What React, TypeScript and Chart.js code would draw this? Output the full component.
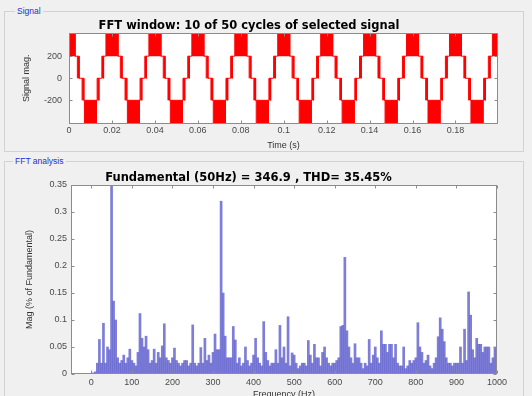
import React, { useEffect, useRef } from "react";
import { Chart, registerables } from "chart.js";

Chart.register(...registerables);

// ---------------- Signal window (top panel) ----------------
const CYCLE_PERIOD = 0.02; // s, 50 Hz
const CYCLE_COUNT = 11; // 10 cycles shown + wrap-around
// one cycle of the staircase signal, peak centred at t = 0
const BAND_START = [-0.0028, 0.0039, 0.0061, 0.0072, 0.0131, 0.0153];
const BAND_END = [0.0028, 0.0047, 0.0069, 0.0128, 0.0139, 0.0161];
const BAND_LOW = [200, 0, -200, -410, -200, 0];
const BAND_HIGH = [410, 200, 0, -200, 0, 200];
const TIME_TICKS = [0, 0.02, 0.04, 0.06, 0.08, 0.1, 0.12, 0.14, 0.16, 0.18];
const SIGNAL_TICKS = [-200, 0, 200];

// ---------------- FFT analysis (bottom panel) ----------------
const FREQ_RESOLUTION = 5; // Hz per bin
const MAGNITUDES = [
  0, 0.002, 0.004, 0.02, 0.064, 0.02, 0.094, 0.02, 0.05, 0.045,
  1.0, 0.135, 0.1, 0.03, 0.02, 0.025, 0.035, 0.02, 0.03, 0.046,
  0.025, 0.02, 0.015, 0.04, 0.112, 0.066, 0.05, 0.07, 0.045, 0.02,
  0.025, 0.046, 0.02, 0.04, 0.03, 0.052, 0.093, 0.03, 0.025, 0.02,
  0.03, 0.048, 0.025, 0.02, 0.015, 0.02, 0.025, 0.025, 0.015, 0.02,
  0.091, 0.02, 0.015, 0.02, 0.049, 0.02, 0.066, 0.025, 0.035, 0.02,
  0.04, 0.074, 0.045, 0.045, 0.32, 0.15, 0.07, 0.03, 0.03, 0.03,
  0.088, 0.063, 0.02, 0.03, 0.015, 0.02, 0.05, 0.025, 0.015, 0.02,
  0.035, 0.066, 0.03, 0.02, 0.015, 0.097, 0.04, 0.025, 0.015, 0.02,
  0.02, 0.045, 0.02, 0.09, 0.03, 0.05, 0.02, 0.106, 0.015, 0.039,
  0.035, 0.02, 0.01, 0.015, 0.02, 0.02, 0.015, 0.062, 0.035, 0.02,
  0.055, 0.03, 0.03, 0.015, 0.04, 0.05, 0.03, 0.02, 0.015, 0.02,
  0.02, 0.025, 0.03, 0.088, 0.09, 0.216, 0.08, 0.05, 0.03, 0.02,
  0.056, 0.03, 0.03, 0.02, 0.01, 0.02, 0.015, 0.064, 0.02, 0.035,
  0.05, 0.03, 0.02, 0.08, 0.055, 0.055, 0.04, 0.055, 0.055, 0.03,
  0.055, 0.02, 0.015, 0.015, 0.05, 0.01, 0.015, 0.025, 0.02, 0.025,
  0.03, 0.095, 0.05, 0.04, 0.02, 0.025, 0.035, 0.015, 0.01, 0.02,
  0.03, 0.069, 0.104, 0.083, 0.06, 0.03, 0.02, 0.02, 0.015, 0.02,
  0.02, 0.02, 0.05, 0.02, 0.083, 0.025, 0.152, 0.109, 0.045, 0.03,
  0.066, 0.055, 0.055, 0.04, 0.05, 0.05, 0.05, 0.02, 0.03, 0.05,
  0.05,
];
const FREQ_TICKS = [0, 100, 200, 300, 400, 500, 600, 700, 800, 900, 1000];
const MAG_TICKS = [0, 0.05, 0.1, 0.15, 0.2, 0.25, 0.3, 0.35];

const RED = "#ff0000";
const BAR_COLOR = "rgba(98,98,208,0.82)";
const TICK_COLOR = "#4a4a4a";
const FRAME_COLOR = "#8c8c8c";
const SANS = "'Liberation Sans', Arial, sans-serif";
const TITLE_FONT = { family: "'DejaVu Sans', sans-serif", size: 11.5, weight: "bold" as const };

const plotFrame = {
  id: "plotFrame",
  beforeDraw(chart: any) {
    const { ctx, chartArea: a } = chart;
    ctx.save();
    ctx.fillStyle = "#ffffff";
    ctx.fillRect(a.left, a.top, a.right - a.left, a.bottom - a.top);
    ctx.restore();
  },
  afterDatasetsDraw(chart: any) {
    const { ctx, chartArea: a, scales } = chart;
    ctx.save();
    ctx.strokeStyle = FRAME_COLOR;
    ctx.lineWidth = 1;
    const L = Math.round(a.left) + 0.5;
    const R = Math.round(a.right) - 0.5;
    const T = Math.round(a.top) + 0.5;
    const B = Math.round(a.bottom) - 0.5;
    ctx.strokeRect(L, T, R - L, B - T);
    const len = 3;
    ctx.beginPath();
    scales.x.ticks.forEach((t: any) => {
      const px = Math.round(scales.x.getPixelForValue(t.value)) + 0.5;
      ctx.moveTo(px, B);
      ctx.lineTo(px, B - len);
      ctx.moveTo(px, T);
      ctx.lineTo(px, T + len);
    });
    scales.y.ticks.forEach((t: any) => {
      const py = Math.round(scales.y.getPixelForValue(t.value)) + 0.5;
      ctx.moveTo(L, py);
      ctx.lineTo(L + len, py);
      ctx.moveTo(R, py);
      ctx.lineTo(R - len, py);
    });
    ctx.stroke();
    ctx.restore();
  },
};

function sharedLevel(i: number, j: number) {
  const a = [BAND_LOW[i], BAND_HIGH[i]];
  return a.find((v) => v === BAND_LOW[j] || v === BAND_HIGH[j]) as number;
}

function signalDatasets() {
  const sets: any[] = BAND_START.map((s, i) => {
    const pts: any[] = [];
    for (let k = 0; k < CYCLE_COUNT; k++) {
      const off = k * CYCLE_PERIOD;
      const ts = s + off;
      const te = BAND_END[i] + off;
      pts.push(
        { x: ts, y: BAND_LOW[i] },
        { x: ts, y: BAND_HIGH[i] },
        { x: te, y: BAND_HIGH[i] },
        { x: te, y: BAND_LOW[i] },
        { x: te, y: null }
      );
    }
    return {
      data: pts,
      borderColor: RED,
      backgroundColor: RED,
      borderWidth: 1,
      pointRadius: 0,
      fill: { value: BAND_LOW[i] },
      spanGaps: false,
      clip: 0,
    };
  });
  const link: any[] = [];
  for (let k = 0; k < CYCLE_COUNT; k++) {
    const off = k * CYCLE_PERIOD;
    for (let i = 0; i < BAND_START.length; i++) {
      const j = (i + 1) % BAND_START.length;
      const lvl = sharedLevel(i, j);
      const x0 = BAND_END[i] + off;
      const x1 = BAND_START[j] + off + (j === 0 ? CYCLE_PERIOD : 0);
      link.push({ x: x0, y: lvl }, { x: x1, y: lvl }, { x: x1, y: null });
    }
  }
  sets.push({
    data: link,
    borderColor: RED,
    borderWidth: 1,
    pointRadius: 0,
    fill: false,
    spanGaps: false,
    clip: 0,
  });
  return sets;
}

function topConfig(): any {
  return {
    type: "line",
    data: { datasets: signalDatasets() },
    plugins: [plotFrame],
    options: {
      responsive: false,
      animation: false,
      events: [],
      layout: { padding: { left: 0, right: 34, top: 19.2, bottom: 0 } },
      plugins: {
        legend: { display: false },
        tooltip: { enabled: false },
        title: {
          display: true,
          text: "FFT window: 10 of 50 cycles of selected signal",
          color: "#000",
          font: TITLE_FONT,
          padding: { top: 0, bottom: 0 },
        },
      },
      scales: {
        x: {
          type: "linear",
          min: 0,
          max: 0.1998,
          grid: { display: false, drawTicks: false },
          border: { display: false },
          afterBuildTicks: (s: any) => {
            s.ticks = TIME_TICKS.map((v) => ({ value: v }));
          },
          afterFit: (s: any) => {
            s.height = 28.5;
          },
          ticks: {
            color: TICK_COLOR,
            font: { family: SANS, size: 9 },
            padding: 2,
            maxRotation: 0,
            autoSkip: false,
            callback: (v: any) => String(v),
          },
          title: {
            display: true,
            text: "Time (s)",
            color: "#333",
            font: { family: SANS, size: 9 },
            padding: { top: 0, bottom: 0.6 },
          },
        },
        y: {
          type: "linear",
          min: -410,
          max: 410,
          grid: { display: false, drawTicks: false },
          border: { display: false },
          afterBuildTicks: (s: any) => {
            s.ticks = SIGNAL_TICKS.map((v) => ({ value: v }));
          },
          afterFit: (s: any) => {
            s.width = 69;
          },
          ticks: {
            color: TICK_COLOR,
            font: { family: SANS, size: 9 },
            padding: 7,
            callback: (v: any) => String(v),
          },
          title: {
            display: true,
            text: "Signal mag.",
            color: "#333",
            font: { family: SANS, size: 9 },
            padding: { top: 21.6, bottom: 0 },
          },
        },
      },
    },
  };
}

function bottomConfig(): any {
  const data = MAGNITUDES.map((m, i) => ({ x: i * FREQ_RESOLUTION, y: m }));
  return {
    type: "bar",
    data: {
      datasets: [
        {
          data,
          backgroundColor: BAR_COLOR,
          borderWidth: 0,
          barPercentage: 1,
          categoryPercentage: 1,
          clip: 0,
        },
      ],
    },
    plugins: [plotFrame],
    options: {
      responsive: false,
      animation: false,
      events: [],
      layout: { padding: { left: 0, right: 35, top: 16.2, bottom: 0 } },
      plugins: {
        legend: { display: false },
        tooltip: { enabled: false },
        title: {
          display: true,
          text: "Fundamental (50Hz) = 346.9 , THD= 35.45%",
          color: "#000",
          font: TITLE_FONT,
          padding: { top: 0, bottom: 0 },
        },
      },
      scales: {
        x: {
          type: "linear",
          min: -50,
          max: 1000,
          offset: false,
          grid: { display: false, drawTicks: false },
          border: { display: false },
          afterBuildTicks: (s: any) => {
            s.ticks = FREQ_TICKS.map((v) => ({ value: v }));
          },
          afterFit: (s: any) => {
            s.height = 31;
          },
          ticks: {
            color: TICK_COLOR,
            font: { family: SANS, size: 9 },
            padding: 3,
            maxRotation: 0,
            autoSkip: false,
            callback: (v: any) => String(v),
          },
          title: {
            display: true,
            text: "Frequency (Hz)",
            color: "#333",
            font: { family: SANS, size: 9 },
            padding: { top: 0, bottom: 4.6 },
          },
        },
        y: {
          type: "linear",
          min: 0,
          max: 0.35,
          grid: { display: false, drawTicks: false },
          border: { display: false },
          afterBuildTicks: (s: any) => {
            s.ticks = MAG_TICKS.map((v) => ({ value: v }));
          },
          afterFit: (s: any) => {
            s.width = 71;
          },
          ticks: {
            color: TICK_COLOR,
            font: { family: SANS, size: 9 },
            padding: 4,
            callback: (v: any) => String(v),
          },
          title: {
            display: true,
            text: "Mag (% of Fundamental)",
            color: "#333",
            font: { family: SANS, size: 9 },
            padding: { top: 24.6, bottom: 0 },
          },
        },
      },
    },
  };
}

export default function App() {
  const topRef = useRef<HTMLCanvasElement>(null);
  const botRef = useRef<HTMLCanvasElement>(null);

  useEffect(() => {
    const c1 = new Chart(topRef.current as HTMLCanvasElement, topConfig());
    const c2 = new Chart(botRef.current as HTMLCanvasElement, bottomConfig());
    return () => {
      c1.destroy();
      c2.destroy();
    };
  }, []);

  const panelLabel: React.CSSProperties = {
    position: "absolute",
    fontFamily: SANS,
    fontSize: 8.5,
    color: "#2b2bd6",
    background: "#f0f0f0",
    padding: "0 2px",
    lineHeight: "10px",
  };

  return (
    <div
      style={{
        position: "fixed",
        left: 0,
        top: 0,
        width: 532,
        height: 396,
        overflow: "hidden",
        background: "#f0f0f0",
      }}
    >
      <div
        style={{
          position: "absolute",
          left: 4,
          top: 11,
          width: 518,
          height: 139,
          border: "1px solid #d2d2d2",
        }}
      />
      <div
        style={{
          position: "absolute",
          left: 4,
          top: 161,
          width: 518,
          height: 250,
          border: "1px solid #d2d2d2",
        }}
      />
      <canvas
        ref={topRef}
        width={532}
        height={152}
        style={{ position: "absolute", left: 0, top: 0, width: 532, height: 152 }}
      />
      <canvas
        ref={botRef}
        width={532}
        height={250}
        style={{ position: "absolute", left: 0, top: 155, width: 532, height: 250 }}
      />
      <span style={{ ...panelLabel, left: 15, top: 6 }}>Signal</span>
      <span style={{ ...panelLabel, left: 13, top: 156 }}>FFT analysis</span>
    </div>
  );
}
